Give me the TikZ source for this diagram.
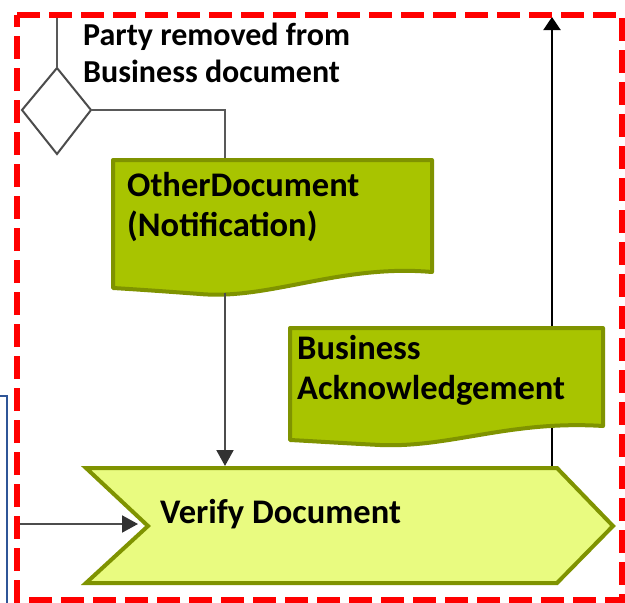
\documentclass[tikz,border=0pt]{standalone}
\usepackage{fontspec}
\setmainfont{Carlito}
\usetikzlibrary{arrows.meta}
\definecolor{docfill}{RGB}{168,196,0}
\definecolor{docline}{RGB}{127,147,0}
\definecolor{actfill}{RGB}{233,251,128}
\definecolor{frame}{RGB}{255,0,0}
\definecolor{bluel}{RGB}{47,85,151}
\definecolor{grayline}{RGB}{128,128,128}
\definecolor{tipgray}{RGB}{50,50,50}
\tikzset{
  label text/.style={inner sep=0pt, anchor=north west, align=left, font=\bfseries\fontsize{34.5}{40}\selectfont},
  docshape/.style={fill=docfill, draw=docline, line width=4pt, line join=round},
  actshape/.style={fill=actfill, draw=docline, line width=4pt, line join=miter},
  flow/.style={draw=grayline, line width=2pt},
  flowarrow/.style={flow, -{Triangle[length=16pt,width=17pt,color=tipgray]}},
  blackarrow/.style={draw=black, line width=2pt, -{Triangle[length=13pt,width=17pt]}},
}
\begin{document}
\begin{tikzpicture}[x=1pt,y=-1pt]
\useasboundingbox (0,0) rectangle (625,603);
% blue line at left
\draw[bluel, line width=2pt] (0,396) -- (7,396) -- (7,603);
% up arrow to top (behind Business Acknowledgement)
\coordinate (topout) at (552,17);
\coordinate (verifytop) at (552,468);
\draw[blackarrow] (verifytop) -- (topout);
% gateway
\coordinate (gtop) at (57,68);
\coordinate (gright) at (91,110);
\coordinate (gleft) at (22,110);
\coordinate (gbottom) at (57,154);
\coordinate (topin) at (57,15);
\draw[draw=black!70, line width=2pt] (gtop) -- (gright) -- (gbottom) -- (gleft) -- cycle;
\draw[flow, draw=black!65] (topin) -- (gtop);
\node[label text, font=\bfseries\fontsize{32}{37}\selectfont] (cond) at (83,23) {Party removed from\\Business document};
% OtherDocument
\coordinate (odtop) at (225,160);
\coordinate (odbottom) at (225,293);
\draw[flow, draw=black!65] (gright) -- (225,110) -- (odtop);
\draw[docshape] (113,160) -- (432,160) -- (432,272)
  .. controls (340,264) and (270,300) .. (200,294)
  .. controls (160,291) and (130,289) .. (113,288) -- cycle;
\node[label text] (od) at (127,172) {OtherDocument\\(Notification)};
% Verify Document
\draw[actshape] (86,468) -- (557,468) -- (613,526) -- (557,583) -- (86,583) -- (148,526) -- cycle;
\coordinate (vdtop) at (225,466);
\coordinate (vdleft) at (138,524);
\coordinate (leftin) at (17,524);
\node[inner sep=0pt, anchor=base west, font=\bfseries\fontsize{34.5}{40}\selectfont] (vd) at (160,523) {Verify Document};
\draw[flowarrow, draw=black!70] (odbottom) -- (vdtop);
\draw[flowarrow, draw=black!70] (leftin) -- (vdleft);
% Business Acknowledgement
\draw[docshape] (290,328) -- (603,328) -- (603,426)
  .. controls (510,420) and (450,448) .. (380,445)
  .. controls (340,443) and (310,441) .. (290,440) -- cycle;
\node[label text] (ba) at (297,335) {Business\\Acknowledgement};
% red dashed frame
\draw[frame, line width=6pt, dash pattern=on 23pt off 9pt] (17,15) -- (622,15) -- (622,600) -- (17,600) -- cycle;
\end{tikzpicture}
\end{document}
